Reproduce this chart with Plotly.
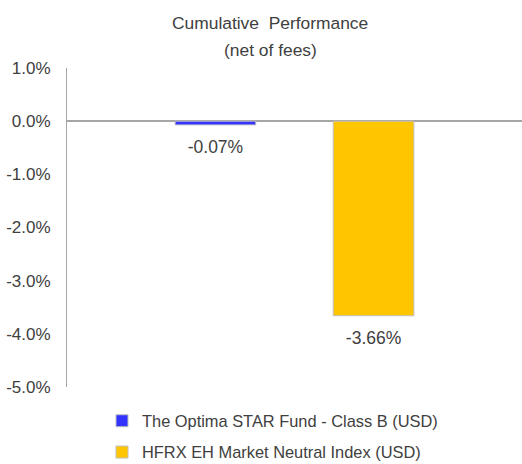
import plotly.graph_objects as go

series_names = ["The Optima STAR Fund - Class B (USD)", "HFRX EH Market Neutral Index (USD)"]
series_values = [-0.07, -3.66]
series_colors = ["#3333FF", "#FFC600"]
category = [""]
tick_vals = [1, 0, -1, -2, -3, -4, -5]
tick_text = ["1.0%", "0.0%", "-1.0%", "-2.0%", "-3.0%", "-4.0%", "-5.0%"]

FONT = "Liberation Sans, Arial, sans-serif"
TXT = "#404040"

PT, PB, PL, PR = 68, 387, 67, 522
def py_to_paper(py):
    return (PB - py) / (PB - PT)
def px_to_paper(px):
    return (px - PL) / (PR - PL)

fig = go.Figure()
for i, (name, val, col) in enumerate(zip(series_names, series_values, series_colors)):
    fig.add_trace(go.Bar(
        x=category, y=[val], name=name,
        marker=dict(color=col, line=dict(color="#BFBFBF", width=1)),
        offsetgroup=str(i), legendgroup=f"g{i}",
    ))
for i, val in enumerate(series_values):
    fig.add_trace(go.Scatter(
        x=category, y=[val], mode="markers+text", text=[f"{val:.2f}%"],
        textposition="bottom center",
        textfont=dict(family=FONT, size=17.5, color=TXT),
        marker=dict(size=22, color="rgba(0,0,0,0)"), offsetgroup=str(i),
        showlegend=False, cliponaxis=False, hoverinfo="skip",
    ))

fig.update_layout(
    width=522, height=464,
    margin=dict(l=PL, r=522 - PR, t=PT, b=464 - PB, autoexpand=False),
    paper_bgcolor="white", plot_bgcolor="white",
    barmode="group", bargap=0.305, bargroupgap=0.49,
    scattermode="group",
    font=dict(family=FONT, color=TXT, size=15),
    showlegend=True,
    legend=dict(
        x=px_to_paper(102), y=-0.052, xanchor="left", yanchor="top",
        font=dict(family=FONT, size=16.4, color=TXT),
        tracegroupgap=7,
    ),
    xaxis=dict(visible=False, range=[-0.5, 0.5]),
    yaxis=dict(
        range=[-5, 1], tickvals=tick_vals, ticktext=tick_text,
        showgrid=False, zeroline=True, zerolinecolor="#A6A6A6", zerolinewidth=2,
        showline=True, linecolor="#A6A6A6", linewidth=1,
        ticks="", ticklabelstandoff=12,
        tickfont=dict(family=FONT, size=17, color=TXT),
    ),
    annotations=[
        dict(text="Cumulative  Performance", x=px_to_paper(270), y=py_to_paper(23), xref="paper", yref="paper",
             showarrow=False, font=dict(family=FONT, size=17.4, color=TXT), xanchor="center", yanchor="middle"),
        dict(text="(net of fees)", x=px_to_paper(270), y=py_to_paper(50), xref="paper", yref="paper",
             showarrow=False, font=dict(family=FONT, size=17.4, color=TXT), xanchor="center", yanchor="middle"),
    ],
)

fig.write_html(
    "out.html",
    config={"displayModeBar": False},
    post_script="document.body.style.margin='0';document.body.style.overflow='hidden';",
)
